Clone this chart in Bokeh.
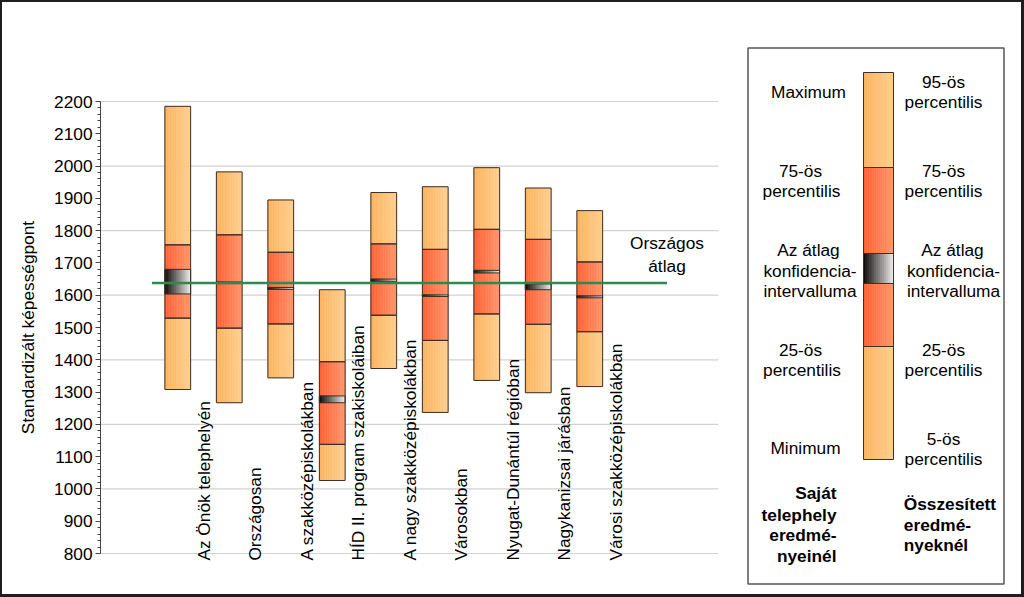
import math
from bokeh.plotting import figure
from bokeh.models import Range1d, FixedTicker, Div
from bokeh.layouts import row, column
from bokeh.embed import file_html
from bokeh.resources import INLINE
from bokeh.core.properties import value

# ---------------- data ----------------
categories = ["Az Önök telephelyén", "Országosan", "A szakközépiskolákban",
              "HÍD II. program szakiskoláiban", "A nagy szakközépiskolákban",
              "Városokban", "Nyugat-Dunántúl régióban", "Nagykanizsai járásban",
              "Városi szakközépiskolákban"]
p_low = [1308, 1267, 1344, 1026, 1373, 1237, 1336, 1298, 1317]
p25 = [1529, 1498, 1511, 1138, 1538, 1460, 1542, 1510, 1487]
ci_low = [1604, 1636, 1618, 1267, 1643, 1596, 1669, 1617, 1592]
ci_high = [1680, 1641, 1624, 1288, 1650, 1601, 1677, 1635, 1598]
p75 = [1756, 1787, 1733, 1394, 1759, 1742, 1804, 1773, 1703]
p_high = [2185, 1982, 1895, 1617, 1918, 1936, 1995, 1932, 1862]
national_mean = 1638
national_label = ["Országos", "átlag"]
y_ticks = list(range(800, 2201, 100))
y_minor = list(range(800, 2201, 20))
y_grid = list(range(800, 2201, 200))
y_title = "Standardizált képességpont"

legend_left = ["Maximum", "75-ös", "percentilis", "Az átlag", "konfidencia-",
               "intervalluma", "25-ös", "percentilis", "Minimum"]
legend_right = ["95-ös", "percentilis", "75-ös", "percentilis", "Az átlag",
                "konfidencia-", "intervalluma", "25-ös", "percentilis", "5-ös", "percentilis"]
legend_left_bold = ["Saját", "telephely", "eredmé-", "nyeinél"]
legend_right_bold = ["Összesített", "eredmé-", "nyeknél"]

# ---------------- styles ----------------
FONT = "Liberation Sans"
FS = "17.3px"
OUTER = ((252, 180, 95), (255, 206, 142))
MID = ((255, 96, 50), (255, 150, 108))
CIC = ((8, 8, 8), (238, 238, 238))
EDGE = "#3c2f27"
N = 16


def lerp(c0, c1, t):
    return "#%02x%02x%02x" % tuple(int(round(a + (b - a) * t)) for a, b in zip(c0, c1))


def new_store():
    return {"left": [], "right": [], "bottom": [], "top": [], "color": []}


def add_strips(store, xl, xr, y0, y1, cols):
    w = (xr - xl) / N
    for j in range(N):
        store["left"].append(xl + j * w)
        store["right"].append(xl + (j + 1) * w)
        store["bottom"].append(y0)
        store["top"].append(y1)
        store["color"].append(lerp(cols[0], cols[1], (j + 0.5) / N))


def add_box(store, xl, xr, y0, y1):
    store["left"].append(xl)
    store["right"].append(xr)
    store["bottom"].append(y0)
    store["top"].append(y1)


def panel(width, x0, x1):
    f = figure(width=width, height=592, x_range=Range1d(x0, x1), y_range=Range1d(594, 2),
               output_backend="svg", toolbar_location=None, x_axis_location=None,
               y_axis_location=None, min_border=0)
    f.outline_line_color = None
    f.grid.visible = False
    f.background_fill_color = "white"
    f.border_fill_color = "white"
    return f


# ---------------- y title panel (page pixel coordinates) ----------------
tp = panel(43, 2, 45)
tp.text(x=[27], y=[327], text=[y_title], angle=math.pi / 2, text_align="center",
        text_baseline="middle", text_font=value(FONT), text_font_size=FS, text_color="black")

# ---------------- main chart ----------------
n_slots = len(categories) + 3
slot_px = 51.5
k = 452 / 1400.0  # px per score unit
p = figure(width=685, height=592, x_range=Range1d(0, 630 / slot_px),
           y_range=Range1d(800 - 41 / k, 2200 + 99 / k), output_backend="svg",
           toolbar_location=None, x_axis_location=None, min_border_left=55,
           min_border_right=0, min_border_top=0, min_border_bottom=0)
p.outline_line_color = None
p.grid.visible = False
p.background_fill_color = "white"
p.border_fill_color = "white"

ax = p.yaxis[0]
ax.ticker = FixedTicker(ticks=y_ticks, minor_ticks=y_minor)
ax.bounds = (800, 2200)
ax.major_label_text_font = FONT
ax.major_label_text_font_size = FS
ax.major_label_text_color = "black"
ax.major_label_standoff = 3
ax.major_tick_in = 0
ax.major_tick_out = 5
ax.minor_tick_in = 0
ax.minor_tick_out = 3
ax.axis_line_color = "#444444"
ax.major_tick_line_color = "#444444"
ax.minor_tick_line_color = "#444444"

p.segment(x0=0, x1=n_slots, y0=y_grid, y1=y_grid, line_color="#d2d2d2", line_width=1.2)

strips = new_store()
boxes = new_store()
for i in range(len(categories)):
    xc = i + 1.5
    xl, xr = xc - 0.25, xc + 0.25
    add_strips(strips, xl, xr, p_low[i], p25[i], OUTER)
    add_strips(strips, xl, xr, p75[i], p_high[i], OUTER)
    add_strips(strips, xl, xr, p25[i], p75[i], MID)
    add_strips(strips, xl, xr, ci_low[i], ci_high[i], CIC)
    for a, b in ((p_low[i], p25[i]), (p25[i], p75[i]), (ci_low[i], ci_high[i]), (p75[i], p_high[i])):
        add_box(boxes, xl, xr, a, b)

p.quad(left=strips["left"], right=strips["right"], bottom=strips["bottom"], top=strips["top"],
       fill_color=strips["color"], line_color=strips["color"], line_width=0.6)
p.quad(left=boxes["left"], right=boxes["right"], bottom=boxes["bottom"], top=boxes["top"],
       fill_color=None, line_color=EDGE, line_width=1)

p.segment(x0=1, x1=n_slots - 1, y0=national_mean, y1=national_mean,
          line_color="#2b8a4c", line_width=2.5)
p.text(x=[n_slots - 1] * 2, y=[national_mean] * 2, text=national_label,
       y_offset=[-40, -17], text_align="center", text_baseline="middle",
       text_font=value(FONT), text_font_size=FS, text_color="black")

p.text(x=[i + 2 for i in range(len(categories))], y=[778] * len(categories),
       text=categories, angle=math.pi / 2, text_align="left", text_baseline="middle",
       text_font=value(FONT), text_font_size=FS, text_color="black")

# ---------------- legend panel (page pixel coordinates) ----------------
lg = panel(291, 730, 1021)

lg.quad(left=[747.5], right=[1003.5], top=[47.5], bottom=[583.5], fill_color=None,
        line_color="#555555", line_width=1.5)

lev = [459, 346, 283, 253, 167, 72]
ls = new_store()
lb = new_store()
add_strips(ls, 863, 893, lev[0], lev[1], OUTER)
add_strips(ls, 863, 893, lev[4], lev[5], OUTER)
add_strips(ls, 863, 893, lev[1], lev[4], MID)
add_strips(ls, 863, 893, lev[2], lev[3], CIC)
for a, b in ((lev[0], lev[1]), (lev[1], lev[4]), (lev[2], lev[3]), (lev[4], lev[5])):
    add_box(lb, 863, 893, a, b)
lg.quad(left=ls["left"], right=ls["right"], bottom=ls["bottom"], top=ls["top"],
        fill_color=ls["color"], line_color=ls["color"], line_width=0.6)
lg.quad(left=lb["left"], right=lb["right"], bottom=lb["bottom"], top=lb["top"],
        fill_color=None, line_color=EDGE, line_width=1)

left_x = [808, 800, 801, 808, 809.5, 809.5, 800, 801.5, 805]
left_y = [91.7, 170, 190.7, 249.3, 270, 290.7, 349.3, 369, 447.3]
right_x = [943, 943, 943, 943, 952, 953, 953, 943, 943, 943, 943]
right_y = [81.7, 101.7, 170, 190.7, 249.3, 270, 290.7, 349.3, 369, 438.3, 458.3]
lg.text(x=left_x, y=left_y, text=legend_left, text_align="center", text_baseline="middle",
        text_font=value(FONT), text_font_size=FS, text_color="black")
lg.text(x=right_x, y=right_y, text=legend_right, text_align="center", text_baseline="middle",
        text_font=value(FONT), text_font_size=FS, text_color="black")
lg.text(x=[836] * 4, y=[492.7, 514, 534.7, 555.3], text=legend_left_bold, text_align="right",
        text_baseline="middle", text_font=value(FONT), text_font_size=FS,
        text_font_style="bold", text_color="black")
lg.text(x=[903.3] * 3, y=[503.3, 524, 544], text=legend_right_bold, text_align="left",
        text_baseline="middle", text_font=value(FONT), text_font_size=FS,
        text_font_style="bold", text_color="black")

# ---------------- outer frame ----------------
FR = "#1e1e1e"
top_bar = Div(text="", width=1024, height=2, margin=0, styles={"background-color": FR})
bot_bar = Div(text="", width=1024, height=3, margin=0, styles={"background-color": FR})
left_bar = Div(text="", width=2, height=592, margin=0, styles={"background-color": FR})
right_bar = Div(text="", width=3, height=592, margin=0, styles={"background-color": FR})

layout = column(top_bar, row(left_bar, tp, p, lg, right_bar, spacing=0, margin=0),
                bot_bar, spacing=0, margin=0)

open("out.html", "w").write(file_html(layout, INLINE))
